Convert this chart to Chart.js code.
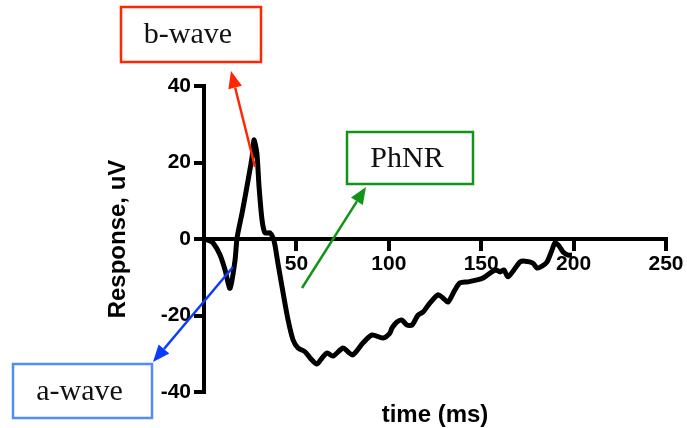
<!DOCTYPE html>
<html>
<head>
<meta charset="utf-8">
<script src="https://cdn.jsdelivr.net/npm/chart.js@4/dist/chart.umd.min.js"></script>
<style>
  html, body { margin: 0; padding: 0; background: #fff; }
  #wrap { width: 687px; height: 428px; }
</style>
</head>
<body>
<div id="wrap"><canvas id="erg"></canvas></div>
<script>
// ERG trace: time (ms) vs response (uV)
const timeMs = [0, 2.2, 4.9, 8.7, 11.4, 14.1, 16.8, 17.9, 20.6, 23.2, 26, 27, 28.6, 29.8, 31.4, 33, 35.7, 37.4,
  38.4, 40, 42.8, 45.5, 48.2, 50.9, 54.7, 57.4, 61.1, 63.9, 66.6, 69.8, 75.2, 77.9, 80.6, 86, 90.9, 96.9, 100.6,
  101.7, 104.4, 107.1, 109.8, 112.6, 115.8, 118.5, 122.3, 126.6, 129.3, 132, 135.8, 138.5, 142.9, 147.7, 151,
  154.8, 158, 160.2, 162.3, 164.5, 167.7, 171, 173.7, 178, 180.2, 182.9, 185.6, 188.3, 189.9, 192.1, 194.3, 197, 199.1];
const responseUv = [0, -0.3, -1, -4.2, -8.1, -12.9, -5.5, 0.3, 6.8, 13.6, 21.4, 25.9, 22.5, 13.6, 5, 1.6, 1.6, 0.3,
  -1.6, -6.3, -14.1, -21.2, -26.4, -28.5, -29.5, -31.1, -32.7, -31.1, -29.8, -30.6, -28.5, -29.5, -30.3, -27.2, -25.1, -25.9, -24.6,
  -23.3, -21.7, -21.2, -22.5, -22.5, -19.9, -19.1, -16.7, -14.6, -15.4, -16.5, -13.3, -11.5, -11.2, -10.7, -10.2,
  -8.9, -8.1, -8.6, -8.1, -9.9, -8.1, -6, -5.8, -6.3, -7.6, -7.1, -6, -2.9, -1, -1.8, -3.4, -4.2, -4.2];

const xTicks = [0, 50, 100, 150, 200, 250];
const yTicks = [-40, -20, 0, 20, 40];

// annotation boxes + arrows (pixel positions on the canvas)
const callouts = [
  { text: 'b-wave', box: [121, 7, 140, 55], color: '#ff2600', boxColor: '#ff2600', from: [255, 167], to: [231, 71] },
  { text: 'a-wave', box: [13, 364, 139, 54], color: '#0a3cff', boxColor: '#4f8ef7', from: [233, 267], to: [153, 362] },
  { text: 'PhNR',   box: [347, 132, 126, 52], color: '#129418', boxColor: '#129418', from: [302, 288], to: [366, 187] },
];

const SANS = '"Liberation Sans", Arial, sans-serif';
const SERIF = '"Liberation Serif", "Times New Roman", serif';

function drawArrow(ctx, from, to, color) {
  const ang = Math.atan2(to[1] - from[1], to[0] - from[0]);
  const headLen = 17, headW = 7;
  const bx = to[0] - headLen * Math.cos(ang);
  const by = to[1] - headLen * Math.sin(ang);
  ctx.strokeStyle = color;
  ctx.fillStyle = color;
  ctx.lineWidth = 2.5;
  ctx.beginPath();
  ctx.moveTo(from[0], from[1]);
  ctx.lineTo(bx, by);
  ctx.stroke();
  ctx.beginPath();
  ctx.moveTo(to[0], to[1]);
  ctx.lineTo(bx + headW * Math.sin(ang), by - headW * Math.cos(ang));
  ctx.lineTo(bx - headW * Math.sin(ang), by + headW * Math.cos(ang));
  ctx.closePath();
  ctx.fill();
}

const annotations = {
  id: 'annotations',
  afterDraw(chart) {
    const { ctx, chartArea } = chart;
    ctx.save();
    // x axis title sits at the bottom, not next to the y=0 axis line
    ctx.fillStyle = '#000';
    ctx.font = 'bold 24px ' + SANS;
    ctx.textAlign = 'center';
    ctx.textBaseline = 'alphabetic';
    ctx.fillText('time (ms)', (chartArea.left + chartArea.right) / 2, 422);

    callouts.forEach((c) => {
      const [x, y, w, h] = c.box;
      ctx.strokeStyle = c.boxColor;
      ctx.lineWidth = 2.5;
      ctx.strokeRect(x, y, w, h);
      ctx.fillStyle = '#111';
      ctx.font = '30px ' + SERIF;
      ctx.textAlign = 'center';
      ctx.textBaseline = 'middle';
      ctx.fillText(c.text, x + w / 2 - 3, y + h / 2 + 1);
      drawArrow(ctx, c.from, c.to, c.color);
    });
    ctx.restore();
  },
};

new Chart(document.getElementById('erg'), {
  type: 'line',
  data: {
    datasets: [{
      data: timeMs.map((t, i) => ({ x: t, y: responseUv[i] })),
      borderColor: '#000',
      borderWidth: 5,
      pointRadius: 0,
      tension: 0.25,
      fill: false,
    }],
  },
  options: {
    responsive: true,
    maintainAspectRatio: false,
    animation: false,
    layout: { padding: { left: 100, right: 21, top: 86, bottom: 36 } },
    plugins: {
      legend: { display: false },
      tooltip: { enabled: false },
    },
    scales: {
      x: {
        type: 'linear',
        position: { y: 0 },
        min: xTicks[0],
        max: xTicks[xTicks.length - 1],
        afterBuildTicks: (scale) => { scale.ticks = xTicks.map((v) => ({ value: v })); },
        border: { display: true, color: '#000', width: 4 },
        grid: { display: true, drawOnChartArea: false, drawTicks: true, tickLength: 10, lineWidth: 4, color: '#000' },
        ticks: {
          color: '#000',
          padding: 3,
          maxRotation: 0,
          font: { family: SANS, size: 21, weight: 'bold' },
          callback: (v) => (v === 0 ? '' : v),
        },
      },
      y: {
        min: yTicks[0],
        max: yTicks[yTicks.length - 1],
        afterBuildTicks: (scale) => { scale.ticks = yTicks.map((v) => ({ value: v })); },
        afterFit: (scale) => { scale.width = 104; },
        border: { display: true, color: '#000', width: 4 },
        grid: { display: true, drawOnChartArea: false, drawTicks: true, tickLength: 10, lineWidth: 4, color: '#000' },
        ticks: {
          color: '#000',
          padding: 3,
          font: { family: SANS, size: 21, weight: 'bold' },
        },
        title: {
          display: true,
          text: 'Response, uV',
          color: '#000',
          padding: { top: 4, bottom: 0 },
          font: { family: SANS, size: 24, weight: 'bold' },
        },
      },
    },
  },
  plugins: [annotations],
});
</script>
</body>
</html>
